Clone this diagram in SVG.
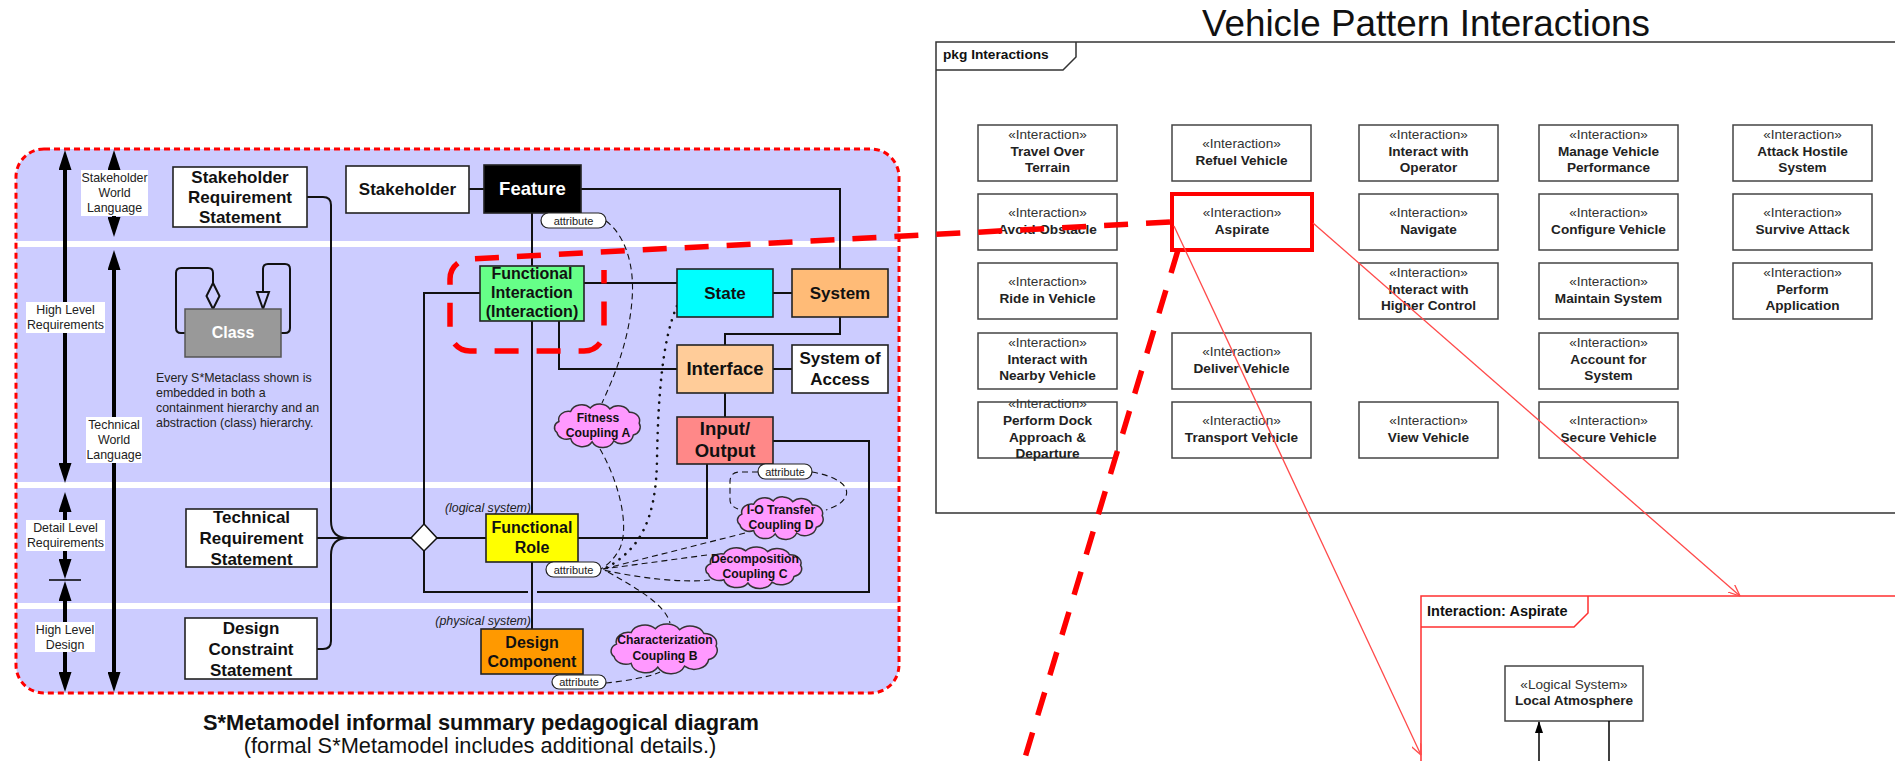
<svg xmlns="http://www.w3.org/2000/svg" width="1895" height="761" viewBox="0 0 1895 761">
  <style>
    text { font-family: "Liberation Sans", Arial, sans-serif; fill: #111; }
    .lbl { font-size: 12.4px; text-anchor: middle; fill: #222; }
    .note { font-size: 12.4px; fill: #222; }
    .b17 { font-size: 17px; font-weight: bold; text-anchor: middle; }
    .b16 { font-size: 16px; font-weight: bold; text-anchor: middle; }
    .b18 { font-size: 18.5px; font-weight: bold; text-anchor: middle; }
    .cl { font-size: 12.2px; font-weight: bold; text-anchor: middle; }
    .attr { font-size: 11px; text-anchor: middle; fill: #222; }
    .ital { font-size: 12.4px; font-style: italic; text-anchor: end; fill: #222; }
    .box { stroke: #222; stroke-width: 1.6; }
    .wire { fill: none; stroke: #111; stroke-width: 2; }
    .dash { fill: none; stroke: #111; stroke-width: 1.1; stroke-dasharray: 6 4; }
    .pill { fill: #fff; stroke: #222; stroke-width: 1.2; }
    .lbox { fill: #fff; }
    .ia { fill: #fff; stroke: #444; stroke-width: 1.5; }
    .st { font-size: 13.6px; text-anchor: middle; fill: #333; }
    .nm { font-size: 13.6px; font-weight: bold; text-anchor: middle; fill: #222; }
    .frame { fill: none; stroke: #333; stroke-width: 1.5; }
    .rframe { fill: none; stroke: #ff3030; stroke-width: 1.5; }
    .thin-red { fill: none; stroke: #ff4a4a; stroke-width: 1.3; }
    .callout { fill: none; stroke: #ff0000; stroke-width: 5.5; stroke-dasharray: 24 18; }
  </style>
  <defs>
    <marker id="bigArrow" viewBox="0 0 20 13" refX="14" refY="6.5" markerWidth="20" markerHeight="13" markerUnits="userSpaceOnUse" orient="auto-start-reverse" preserveAspectRatio="none">
      <path d="M0,0 L20,6.5 L0,13 z" fill="#000"/>
    </marker>
    <marker id="openRed" viewBox="0 0 12 10" refX="11.5" refY="5" markerWidth="12" markerHeight="10" markerUnits="userSpaceOnUse" orient="auto">
      <path d="M0,0 L11.5,5 L0,10" fill="none" stroke="#ff4a4a" stroke-width="1.3"/>
    </marker>
    <marker id="smallArrow" viewBox="0 0 12 8" refX="11" refY="4" markerWidth="12" markerHeight="8" markerUnits="userSpaceOnUse" orient="auto">
      <path d="M0,0 L12,4 L0,8 z" fill="#000"/>
    </marker>
    <path id="cloud" d="M10,20 A10,10 0 0 1 22,8 A12,12 0 0 1 42,4 A12,12 0 0 1 62,5 A12,12 0 0 1 82,9 A10,10 0 0 1 92,22 A10,10 0 0 1 86,36 A12,12 0 0 1 66,43 A12,12 0 0 1 44,44 A12,12 0 0 1 22,40 A10,10 0 0 1 8,33 A8,8 0 0 1 10,20 Z" fill="#ff99ff" stroke="#333" stroke-width="1.5" vector-effect="non-scaling-stroke"/>
  </defs>

  <!-- ===== S*Metamodel panel ===== -->
  <g id="metamodel-panel">
    <rect x="16" y="149" width="883" height="544" rx="28" fill="#ccccff"/>
    <rect x="16" y="241" width="883" height="6" fill="#fff"/>
    <rect x="16" y="482" width="883" height="6" fill="#fff"/>
    <rect x="16" y="603" width="883" height="6" fill="#fff"/>
    <rect x="16" y="149" width="883" height="544" rx="28" fill="none" stroke="#ff0000" stroke-width="3" stroke-dasharray="6 4"/>
  </g>

  <!-- level arrows -->
  <g id="level-arrows" stroke="#000" stroke-width="4">
    <line x1="65" y1="156" x2="65" y2="477" marker-start="url(#bigArrow)" marker-end="url(#bigArrow)"/>
    <line x1="114" y1="156" x2="114" y2="231" marker-start="url(#bigArrow)" marker-end="url(#bigArrow)"/>
    <line x1="114" y1="256" x2="114" y2="686" marker-start="url(#bigArrow)" marker-end="url(#bigArrow)"/>
    <line x1="65" y1="498" x2="65" y2="573" marker-start="url(#bigArrow)" marker-end="url(#bigArrow)"/>
    <line x1="65" y1="587" x2="65" y2="686" marker-start="url(#bigArrow)" marker-end="url(#bigArrow)"/>
    <line x1="49" y1="580" x2="81" y2="580" stroke-width="1.5"/>
  </g>
  <g id="level-labels">
    <rect class="lbox" x="81" y="170" width="67" height="46"/>
    <text class="lbl"><tspan x="114.5" y="182">Stakeholder</tspan><tspan x="114.5" y="197">World</tspan><tspan x="114.5" y="212">Language</tspan></text>
    <rect class="lbox" x="26" y="302" width="79" height="31"/>
    <text class="lbl"><tspan x="65.5" y="314">High Level</tspan><tspan x="65.5" y="329">Requirements</tspan></text>
    <rect class="lbox" x="86" y="417" width="56" height="46"/>
    <text class="lbl"><tspan x="114" y="429">Technical</tspan><tspan x="114" y="444">World</tspan><tspan x="114" y="459">Language</tspan></text>
    <rect class="lbox" x="26" y="520" width="79" height="31"/>
    <text class="lbl"><tspan x="65.5" y="532">Detail Level</tspan><tspan x="65.5" y="547">Requirements</tspan></text>
    <rect class="lbox" x="35" y="622" width="60" height="30"/>
    <text class="lbl"><tspan x="65" y="634">High Level</tspan><tspan x="65" y="649">Design</tspan></text>
  </g>

  <!-- connectors of the metamodel -->
  <g id="connectors">
    <path class="wire" d="M307,197 L323,197 Q331,197 331,205 L331,521 Q331,538 348,538"/>
    <path class="wire" d="M317,649 L323,649 Q331,649 331,641 L331,555 Q331,538 348,538"/>
    <line class="wire" x1="317" y1="538" x2="411" y2="538"/>
    <line class="wire" x1="469" y1="189" x2="484" y2="189"/>
    <path class="wire" d="M581,189 L840,189 L840,269"/>
    <line class="wire" x1="532" y1="213" x2="532" y2="266"/>
    <line class="wire" x1="532" y1="321" x2="532" y2="514"/>
    <line class="wire" x1="532" y1="562" x2="532" y2="629"/>
    <path class="wire" d="M480,293 L424,293 L424,524"/>
    <line class="wire" x1="437" y1="538" x2="486" y2="538"/>
    <path class="wire" d="M424,551 L424,592 L528,592"/>
    <path class="wire" d="M537,592 L869,592 L869,441 L773,441"/>
    <path class="wire" d="M578,538 L707,538 L707,464"/>
    <line class="wire" x1="584" y1="283" x2="677" y2="283"/>
    <line class="wire" x1="773" y1="293" x2="792" y2="293"/>
    <path class="wire" d="M559,321 L559,369 L677,369"/>
    <path class="wire" d="M840,317 L840,334 L725,334 L725,345"/>
    <line class="wire" x1="773" y1="369" x2="792" y2="369"/>
    <line class="wire" x1="725" y1="393" x2="725" y2="417"/>
    <!-- class self-relations -->
    <path class="wire" d="M213,283 L213,273 Q213,268 208,268 L181,268 Q176,268 176,273 L176,328 Q176,333 181,333 L185,333"/>
    <path class="wire" d="M281,333 L285,333 Q290,333 290,328 L290,269 Q290,264 285,264 L268,264 Q263,264 263,269 L263,292"/>
    <polygon points="213,283 219.5,296 213,309 206.5,296" fill="#ccccff" stroke="#111" stroke-width="2"/>
    <polygon points="263,309 257,292 269,292" fill="#ccccff" stroke="#111" stroke-width="2"/>
    <!-- coupling traces -->
    <path class="dash" d="M606,221 C625,235 635,265 632,300 C629,340 615,375 602,403"/>
    <path class="dash" d="M600,449 C618,480 630,525 620,548 C614,560 606,566 601,569"/>
    <path d="M677,306 C662,340 658,400 657,460 C656,520 640,550 604,569" fill="none" stroke="#111" stroke-width="2.6" stroke-linecap="round" stroke-dasharray="0.1 7.5"/>
    <path class="dash" d="M745,533 L603,569"/>
    <path class="dash" d="M707,555 L603,569"/>
    <path class="dash" d="M710,580 C680,583 640,578 603,570"/>
    <path class="dash" d="M608,572 C640,590 665,605 670,623"/>
    <path class="dash" d="M606,683 C625,681 650,677 660,672"/>
    <path class="dash" d="M758,472 L740,472 Q730,472 730,482 L730,500 Q730,506 738,509"/>
    <path class="dash" d="M812,472 C835,476 850,485 846,496 C843,503 835,507 826,510"/>
  </g>

  <g id="diamond-junction">
    <polygon points="424,524 437,538 424,551 411,538" fill="#fff" stroke="#111" stroke-width="1.5"/>
  </g>

  <g id="node-srs">
    <rect class="box" x="173" y="167" width="134" height="60" fill="#fff"/>
    <text class="b17"><tspan x="240" y="183">Stakeholder</tspan><tspan x="240" y="203">Requirement</tspan><tspan x="240" y="223">Statement</tspan></text>
  </g>
  <g id="node-stakeholder">
    <rect class="box" x="346" y="166" width="123" height="47" fill="#fff"/>
    <text class="b17" x="407.5" y="195">Stakeholder</text>
  </g>
  <g id="node-feature">
    <rect class="box" x="484" y="165" width="97" height="48" fill="#000"/>
    <text class="b18" x="532.5" y="195" style="fill:#fff">Feature</text>
  </g>
  <g id="node-class">
    <rect x="185" y="309" width="96" height="48" fill="#999" stroke="#555" stroke-width="1.5"/>
    <text class="b16" x="233" y="338" style="fill:#fff">Class</text>
  </g>
  <g id="class-note">
    <text class="note"><tspan x="156" y="382">Every S*Metaclass shown is</tspan><tspan x="156" y="397">embedded in both a</tspan><tspan x="156" y="412">containment hierarchy and an</tspan><tspan x="156" y="427">abstraction (class) hierarchy.</tspan></text>
  </g>
  <g id="node-functional-interaction">
    <rect class="box" x="480" y="266" width="104" height="55" fill="#66ff88"/>
    <text class="b16"><tspan x="532" y="279">Functional</tspan><tspan x="532" y="298">Interaction</tspan><tspan x="532" y="317">(Interaction)</tspan></text>
  </g>
  <g id="node-state">
    <rect class="box" x="677" y="269" width="96" height="48" fill="#00ffff"/>
    <text class="b17" x="725" y="299">State</text>
  </g>
  <g id="node-system">
    <rect class="box" x="792" y="269" width="96" height="48" fill="#ffbb77"/>
    <text class="b17" x="840" y="299">System</text>
  </g>
  <g id="node-interface">
    <rect class="box" x="677" y="345" width="96" height="48" fill="#ffcc99"/>
    <text class="b18" x="725" y="375">Interface</text>
  </g>
  <g id="node-system-of-access">
    <rect class="box" x="792" y="345" width="96" height="48" fill="#fff"/>
    <text class="b17"><tspan x="840" y="364">System of</tspan><tspan x="840" y="385">Access</tspan></text>
  </g>
  <g id="node-input-output">
    <rect class="box" x="677" y="417" width="96" height="47" fill="#ff8888"/>
    <text class="b18"><tspan x="725" y="435">Input/</tspan><tspan x="725" y="457">Output</tspan></text>
  </g>
  <g id="node-trs">
    <rect class="box" x="186" y="509" width="131" height="58" fill="#fff"/>
    <text class="b17"><tspan x="251.5" y="523">Technical</tspan><tspan x="251.5" y="544">Requirement</tspan><tspan x="251.5" y="565">Statement</tspan></text>
  </g>
  <g id="node-functional-role">
    <text class="ital" x="531" y="512">(logical system)</text>
    <rect class="box" x="486" y="514" width="92" height="48" fill="#ffff00"/>
    <text class="b16"><tspan x="532" y="533">Functional</tspan><tspan x="532" y="553">Role</tspan></text>
  </g>
  <g id="node-dcs">
    <rect class="box" x="185" y="618" width="132" height="61" fill="#fff"/>
    <text class="b17"><tspan x="251" y="634">Design</tspan><tspan x="251" y="655">Constraint</tspan><tspan x="251" y="676">Statement</tspan></text>
  </g>
  <g id="node-design-component">
    <text class="ital" x="531" y="625">(physical system)</text>
    <rect class="box" x="481" y="629" width="102" height="45" fill="#ff9900"/>
    <text class="b16"><tspan x="532" y="648">Design</tspan><tspan x="532" y="667">Component</tspan></text>
  </g>

  <g id="attributes">
    <rect class="pill" x="541" y="213" width="65" height="15" rx="7.5"/>
    <text class="attr" x="573.5" y="224.5">attribute</text>
    <rect class="pill" x="758" y="464" width="54" height="15" rx="7.5"/>
    <text class="attr" x="785" y="475.5">attribute</text>
    <rect class="pill" x="546" y="562" width="55" height="15" rx="7.5"/>
    <text class="attr" x="573.5" y="573.5">attribute</text>
    <rect class="pill" x="552" y="675" width="54" height="14" rx="7"/>
    <text class="attr" x="579" y="686">attribute</text>
  </g>

  <g id="cloud-fitness">
    <use href="#cloud" transform="translate(549.1,404.7) scale(0.979,0.843)"/>
    <text class="cl"><tspan x="598" y="422">Fitness</tspan><tspan x="598" y="437">Coupling A</tspan></text>
  </g>
  <g id="cloud-io-transfer">
    <use href="#cloud" transform="translate(732.1,497.6) scale(0.979,0.824)"/>
    <text class="cl"><tspan x="781" y="514">I-O Transfer</tspan><tspan x="781" y="529">Coupling D</tspan></text>
  </g>
  <g id="cloud-decomposition">
    <use href="#cloud" transform="translate(699.7,547.6) scale(1.096,0.804)"/>
    <text class="cl"><tspan x="755" y="563">Decomposition</tspan><tspan x="755" y="578">Coupling C</tspan></text>
  </g>
  <g id="cloud-characterization">
    <use href="#cloud" transform="translate(604.4,624.9) scale(1.213,0.961)"/>
    <text class="cl"><tspan x="665" y="644">Characterization</tspan><tspan x="665" y="660">Coupling B</tspan></text>
  </g>

  <g id="caption">
    <text x="481" y="730" style="font-size:21.8px;font-weight:bold;text-anchor:middle">S*Metamodel informal summary pedagogical diagram</text>
    <text x="480" y="753" style="font-size:21.8px;text-anchor:middle">(formal S*Metamodel includes additional details.)</text>
  </g>

  <!-- ===== Vehicle Pattern Interactions ===== -->
  <g id="title">
    <text x="1202" y="36" style="font-size:36.8px">Vehicle Pattern Interactions</text>
  </g>
  <g id="pkg-frame">
    <path class="frame" d="M1895,42 L936,42 L936,513 L1895,513"/>
    <path class="frame" d="M936,70 L1063,70 L1076,57 L1076,42"/>
    <text x="943" y="59" style="font-size:13.7px;font-weight:bold">pkg Interactions</text>
  </g>

  <g id="ia-travel-over-terrain"><rect class="ia" x="978" y="125" width="139" height="56"/><text><tspan class="st" x="1047.5" y="138.5">«Interaction»</tspan><tspan class="nm" x="1047.5" y="155.5">Travel Over</tspan><tspan class="nm" x="1047.5" y="172">Terrain</tspan></text></g>
  <g id="ia-refuel-vehicle"><rect class="ia" x="1172" y="125" width="139" height="56"/><text><tspan class="st" x="1241.5" y="148">«Interaction»</tspan><tspan class="nm" x="1241.5" y="164.5">Refuel Vehicle</tspan></text></g>
  <g id="ia-interact-with-operator"><rect class="ia" x="1359" y="125" width="139" height="56"/><text><tspan class="st" x="1428.5" y="138.5">«Interaction»</tspan><tspan class="nm" x="1428.5" y="155.5">Interact with</tspan><tspan class="nm" x="1428.5" y="172">Operator</tspan></text></g>
  <g id="ia-manage-vehicle-performance"><rect class="ia" x="1539" y="125" width="139" height="56"/><text><tspan class="st" x="1608.5" y="138.5">«Interaction»</tspan><tspan class="nm" x="1608.5" y="155.5">Manage Vehicle</tspan><tspan class="nm" x="1608.5" y="172">Performance</tspan></text></g>
  <g id="ia-attack-hostile-system"><rect class="ia" x="1733" y="125" width="139" height="56"/><text><tspan class="st" x="1802.5" y="138.5">«Interaction»</tspan><tspan class="nm" x="1802.5" y="155.5">Attack Hostile</tspan><tspan class="nm" x="1802.5" y="172">System</tspan></text></g>

  <g id="ia-avoid-obstacle"><rect class="ia" x="978" y="194" width="139" height="56"/><text><tspan class="st" x="1047.5" y="217">«Interaction»</tspan><tspan class="nm" x="1047.5" y="233.5">Avoid Obstacle</tspan></text></g>
  <g id="ia-aspirate"><rect x="1172" y="194" width="140" height="56" fill="#fff" stroke="#ff0000" stroke-width="4"/><text><tspan class="st" x="1242" y="217">«Interaction»</tspan><tspan class="nm" x="1242" y="233.5">Aspirate</tspan></text></g>
  <g id="ia-navigate"><rect class="ia" x="1359" y="194" width="139" height="56"/><text><tspan class="st" x="1428.5" y="217">«Interaction»</tspan><tspan class="nm" x="1428.5" y="233.5">Navigate</tspan></text></g>
  <g id="ia-configure-vehicle"><rect class="ia" x="1539" y="194" width="139" height="56"/><text><tspan class="st" x="1608.5" y="217">«Interaction»</tspan><tspan class="nm" x="1608.5" y="233.5">Configure Vehicle</tspan></text></g>
  <g id="ia-survive-attack"><rect class="ia" x="1733" y="194" width="139" height="56"/><text><tspan class="st" x="1802.5" y="217">«Interaction»</tspan><tspan class="nm" x="1802.5" y="233.5">Survive Attack</tspan></text></g>

  <g id="ia-ride-in-vehicle"><rect class="ia" x="978" y="263" width="139" height="56"/><text><tspan class="st" x="1047.5" y="286">«Interaction»</tspan><tspan class="nm" x="1047.5" y="302.5">Ride in Vehicle</tspan></text></g>
  <g id="ia-interact-with-higher-control"><rect class="ia" x="1359" y="263" width="139" height="56"/><text><tspan class="st" x="1428.5" y="276.5">«Interaction»</tspan><tspan class="nm" x="1428.5" y="293.5">Interact with</tspan><tspan class="nm" x="1428.5" y="310">Higher Control</tspan></text></g>
  <g id="ia-maintain-system"><rect class="ia" x="1539" y="263" width="139" height="56"/><text><tspan class="st" x="1608.5" y="286">«Interaction»</tspan><tspan class="nm" x="1608.5" y="302.5">Maintain System</tspan></text></g>
  <g id="ia-perform-application"><rect class="ia" x="1733" y="263" width="139" height="56"/><text><tspan class="st" x="1802.5" y="276.5">«Interaction»</tspan><tspan class="nm" x="1802.5" y="293.5">Perform</tspan><tspan class="nm" x="1802.5" y="310">Application</tspan></text></g>

  <g id="ia-interact-with-nearby-vehicle"><rect class="ia" x="978" y="333" width="139" height="56"/><text><tspan class="st" x="1047.5" y="346.5">«Interaction»</tspan><tspan class="nm" x="1047.5" y="363.5">Interact with</tspan><tspan class="nm" x="1047.5" y="380">Nearby Vehicle</tspan></text></g>
  <g id="ia-deliver-vehicle"><rect class="ia" x="1172" y="333" width="139" height="56"/><text><tspan class="st" x="1241.5" y="356">«Interaction»</tspan><tspan class="nm" x="1241.5" y="372.5">Deliver Vehicle</tspan></text></g>
  <g id="ia-account-for-system"><rect class="ia" x="1539" y="333" width="139" height="56"/><text><tspan class="st" x="1608.5" y="346.5">«Interaction»</tspan><tspan class="nm" x="1608.5" y="363.5">Account for</tspan><tspan class="nm" x="1608.5" y="380">System</tspan></text></g>

  <g id="ia-perform-dock"><rect class="ia" x="978" y="402" width="139" height="56"/><text><tspan class="st" x="1047.5" y="408">«Interaction»</tspan><tspan class="nm" x="1047.5" y="425">Perform Dock</tspan><tspan class="nm" x="1047.5" y="441.5">Approach &amp;</tspan><tspan class="nm" x="1047.5" y="458">Departure</tspan></text></g>
  <g id="ia-transport-vehicle"><rect class="ia" x="1172" y="402" width="139" height="56"/><text><tspan class="st" x="1241.5" y="425">«Interaction»</tspan><tspan class="nm" x="1241.5" y="441.5">Transport Vehicle</tspan></text></g>
  <g id="ia-view-vehicle"><rect class="ia" x="1359" y="402" width="139" height="56"/><text><tspan class="st" x="1428.5" y="425">«Interaction»</tspan><tspan class="nm" x="1428.5" y="441.5">View Vehicle</tspan></text></g>
  <g id="ia-secure-vehicle"><rect class="ia" x="1539" y="402" width="139" height="56"/><text><tspan class="st" x="1608.5" y="425">«Interaction»</tspan><tspan class="nm" x="1608.5" y="441.5">Secure Vehicle</tspan></text></g>

  <!-- Interaction: Aspirate detail frame -->
  <g id="aspirate-frame">
    <path class="rframe" d="M1895,596 L1421,596 L1421,761"/>
    <path class="rframe" d="M1421,627 L1574,627 L1588,613 L1588,596"/>
    <text x="1427" y="616" style="font-size:14.5px;font-weight:bold">Interaction: Aspirate</text>
  </g>
  <g id="local-atmosphere">
    <rect class="ia" x="1505" y="666" width="138" height="55"/>
    <text><tspan class="st" x="1574" y="689">«Logical System»</tspan><tspan class="nm" x="1574" y="705">Local Atmosphere</tspan></text>
  </g>
  <g id="aspirate-flows">
    <line x1="1539" y1="761" x2="1539" y2="722" stroke="#000" stroke-width="1.5" marker-end="url(#smallArrow)"/>
    <line x1="1609" y1="721" x2="1609" y2="761" stroke="#000" stroke-width="1.5"/>
  </g>

  <!-- drill-down traces -->
  <g id="drilldown">
    <line class="thin-red" x1="1174" y1="226" x2="1421" y2="755" marker-end="url(#openRed)"/>
    <line class="thin-red" x1="1313" y1="223" x2="1740" y2="596" marker-end="url(#openRed)"/>
    <path class="callout" d="M1170,222 L470,259 A20,20 0 0 0 450,279 L450,331 A20,20 0 0 0 470,351 L584,351 A20,20 0 0 0 604,331 L604,270"/>
    <line class="callout" x1="1178" y1="250" x2="1024" y2="761"/>
  </g>
</svg>
